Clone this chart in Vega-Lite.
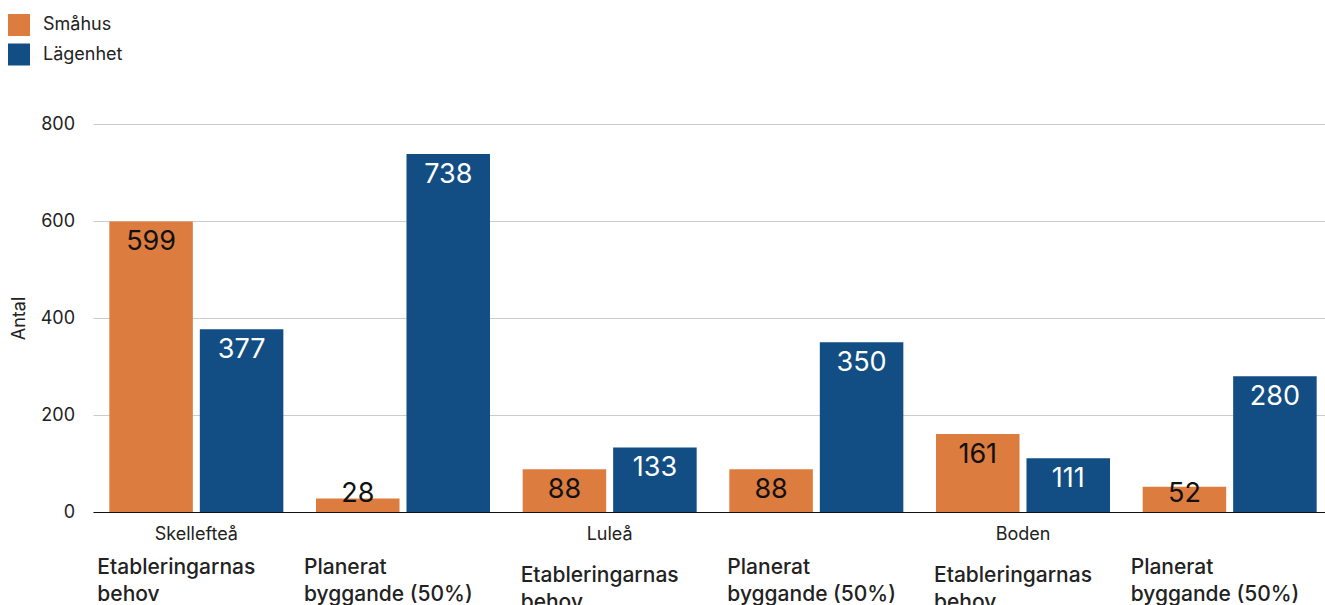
{
  "$schema": "https://vega.github.io/schema/vega-lite/v6.json",
  "width": 1240,
  "height": 388,
  "autosize": "none",
  "padding": {"left": 93, "top": 124, "right": -8, "bottom": 93},
  "background": "white",
  "config": {
    "font": "Inter",
    "view": {"stroke": null},
    "axis": {"labelFont": "Inter", "titleFont": "Inter", "labelColor": "#222", "titleColor": "#222"},
    "legend": {"labelFont": "Inter"}
  },
  "data": {
    "values": [
      {"grupp": "Skellefteå|Etableringarnas behov", "serie": "Småhus", "antal": 599},
      {"grupp": "Skellefteå|Etableringarnas behov", "serie": "Lägenhet", "antal": 377},
      {"grupp": "Skellefteå|Planerat byggande (50%)", "serie": "Småhus", "antal": 28},
      {"grupp": "Skellefteå|Planerat byggande (50%)", "serie": "Lägenhet", "antal": 738},
      {"grupp": "Luleå|Etableringarnas behov", "serie": "Småhus", "antal": 88},
      {"grupp": "Luleå|Etableringarnas behov", "serie": "Lägenhet", "antal": 133},
      {"grupp": "Luleå|Planerat byggande (50%)", "serie": "Småhus", "antal": 88},
      {"grupp": "Luleå|Planerat byggande (50%)", "serie": "Lägenhet", "antal": 350},
      {"grupp": "Boden|Etableringarnas behov", "serie": "Småhus", "antal": 161},
      {"grupp": "Boden|Etableringarnas behov", "serie": "Lägenhet", "antal": 111},
      {"grupp": "Boden|Planerat byggande (50%)", "serie": "Småhus", "antal": 52},
      {"grupp": "Boden|Planerat byggande (50%)", "serie": "Lägenhet", "antal": 280}
    ]
  },
  "encoding": {
    "y": {
      "field": "antal",
      "type": "quantitative",
      "scale": {"domain": [0, 800], "nice": false},
      "axis": {
        "title": "Antal",
        "titleFontSize": 18,
        "titleFontWeight": "normal",
        "titleX": -74,
        "titleY": 194,
        "titleAlign": "center",
        "titleBaseline": "middle",
        "titleAngle": -90,
        "values": [0, 200, 400, 600, 800],
        "labelFontSize": 18,
        "labelPadding": 18.5,
        "ticks": false,
        "domain": false,
        "grid": true,
        "gridColor": "#cccccc",
        "gridWidth": 1
      }
    },
    "xOffset": {
      "field": "serie",
      "type": "nominal",
      "sort": ["Småhus", "Lägenhet"],
      "scale": {"paddingInner": 0.077, "paddingOuter": 0}
    }
  },
  "resolve": {"axis": {"x": "independent"}},
  "layer": [
    {
      "mark": {"type": "bar"},
      "encoding": {
        "x": {
          "field": "grupp",
          "type": "nominal",
          "sort": null,
          "scale": {"paddingInner": 0.158, "paddingOuter": 0.079},
          "axis": {
            "orient": "bottom",
            "title": null,
            "labelAngle": 0,
            "labelExpr": "split(datum.value,'|')[1] == 'Etableringarnas behov' ? split(datum.value,'|')[0] : ''",
            "labelFontSize": 18,
            "labelPadding": 13.5,
            "ticks": false,
            "tickSize": 0,
            "domain": true,
            "domainColor": "#111",
            "domainWidth": 1.2,
            "grid": false,
            "labelOverlap": false,
            "labelBound": false
          }
        },
        "color": {
          "field": "serie",
          "type": "nominal",
          "sort": ["Småhus", "Lägenhet"],
          "scale": {"domain": ["Småhus", "Lägenhet"], "range": ["#DD7C3F", "#124E84"]},
          "legend": {
            "title": null,
            "orient": "none",
            "legendX": -85,
            "legendY": -110,
            "symbolType": "square",
            "symbolSize": 484,
            "symbolStrokeWidth": 0,
            "labelFontSize": 18,
            "labelColor": "#222",
            "labelOffset": 13,
            "rowPadding": 7.5
          }
        }
      }
    },
    {
      "mark": {
        "type": "text",
        "baseline": "top",
        "align": "center",
        "fontSize": 27,
        "font": "Inter",
        "dy": {"expr": "min(8, scale('y', 0) - scale('y', datum.antal) - 30.6)"}
      },
      "encoding": {
        "x": {
          "field": "grupp",
          "type": "nominal",
          "sort": null,
          "scale": {"paddingInner": 0.158, "paddingOuter": 0.079},
          "axis": {
            "orient": "bottom",
            "title": null,
            "labelAngle": 0,
            "labelExpr": "[substring(split(datum.value,'|')[1], 0, indexof(split(datum.value,'|')[1], ' ')), substring(split(datum.value,'|')[1], indexof(split(datum.value,'|')[1], ' ') + 1)]",
            "labelFontSize": 21,
            "labelFontWeight": 500,
            "labelLineHeight": 27,
            "labelAlign": "left",
            "labelBaseline": "top",
            "labelOffset": {
              "condition": {"test": "datum.value == 'Luleå|Etableringarnas behov' || datum.value == 'Boden|Etableringarnas behov' || datum.value == 'Luleå|Planerat byggande (50%)'", "value": -89},
              "value": -99
            },
            "labelPadding": {
              "condition": {"test": "datum.value == 'Luleå|Etableringarnas behov' || datum.value == 'Boden|Etableringarnas behov'", "value": 52},
              "value": 44.5
            },
            "ticks": false,
            "tickSize": 0,
            "domain": false,
            "grid": false,
            "labelOverlap": false,
            "labelBound": false,
            "labelFlush": false
          }
        },
        "text": {"field": "antal", "type": "quantitative"},
        "color": {
          "condition": {"test": "datum.serie == 'Lägenhet'", "value": "#ffffff"},
          "value": "#111111"
        }
      }
    }
  ]
}
